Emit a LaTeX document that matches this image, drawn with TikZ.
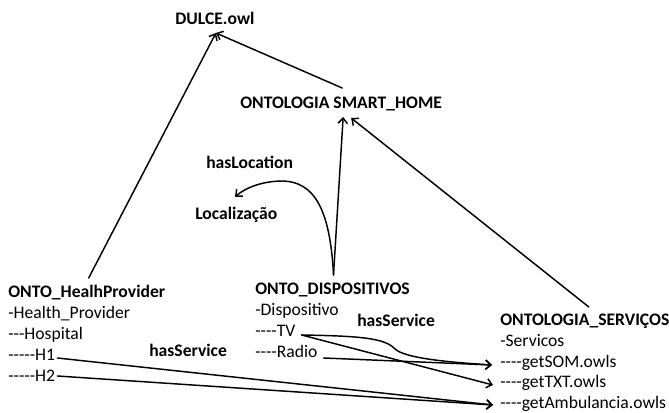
\documentclass[tikz,border=0pt]{standalone}
\usepackage{fontspec}
\setmainfont{Carlito}[Ligatures=TeXOff]
\usetikzlibrary{arrows.meta,calc}
\begin{document}
\begin{tikzpicture}[x=0.75pt,y=-0.75pt,
  lbl/.style={anchor=base west,inner sep=0pt,font=\fontsize{13.2}{15}\selectfont},
  hdr/.style={lbl,font=\fontsize{13.2}{15}\selectfont\bfseries},
  wire/.style={line width=1.1pt,line cap=round},
  conn/.style={wire,-{Straight Barb[length=4pt,width=7pt,line width=1.1pt]}}]
\useasboundingbox (0,0) rectangle (669,413);

% ontologies and their contents
\node[hdr] (dulce) at (175,25) {DULCE.owl};
\node[hdr] (smart) at (240,109) {ONTOLOGIA SMART\_HOME};
\node[hdr] (hasloc) at (206,169) {hasLocation};
\node[hdr] (loc) at (195,220) {Localização};

\node[hdr] (hp) at (8,298) {ONTO\_HealhProvider};
\node[lbl] (hpa) at (8,319) {-Health\_Provider};
\node[lbl] (hpb) at (8,340) {---Hospital};
\node[lbl] (h1) at (8,361) {-----H1};
\node[lbl] (h2) at (8,382) {-----H2};

\node[hdr] (disp) at (255,295) {ONTO\_DISPOSITIVOS};
\node[lbl] (dispa) at (255,316) {-Dispositivo};
\node[lbl] (tv) at (255,337) {----TV};
\node[lbl] (radio) at (255,358) {----Radio};

\node[hdr] (serv) at (500,326) {ONTOLOGIA\_SERVIÇOS};
\node[lbl] (serva) at (500,347) {-Servicos};
\node[lbl] (som) at (500,368) {----getSOM.owls};
\node[lbl] (txt) at (500,388) {----getTXT.owls};
\node[lbl] (amb) at (500,409) {----getAmbulancia.owls};

\node[hdr] (hs1) at (149,357) {hasService};
\node[hdr] (hs2) at (357,327) {hasService};

% import hierarchy
\draw[conn] ($(hp.base)+(2,-20)$) -- ($(dulce.base)+(1,8)$);
\draw[conn] ($(smart.base)+(1,-21)$) -- ($(dulce.base)+(1,8)$);
\draw[conn] ($(disp.base)+(1,-20)$) -- ($(smart.base)+(2,8)$);
\draw[conn] ($(serv.base)+(4,-19)$) -- ($(smart.base)+(10,9)$);

% hasLocation
\draw[conn] ($(disp.base)+(1,-20)$) .. controls (330,205) and (312,182) .. (283,181)
  .. controls (262,181) and (245,188) .. ($(loc.base west)+(40,-23)$);

% hasService links
\draw[conn] ($(h1.base east)+(2,-3)$) -- ($(amb.base west)+(-7,-4)$);
\draw[conn] ($(h2.base east)+(2,-6)$) -- ($(amb.base west)+(-7,-4)$);
\draw[conn] ($(tv.base east)+(6,-2)$) -- ($(txt.base west)+(-7,-3)$);
\draw[conn] ($(tv.base east)+(6,-2)$) .. controls (360,336) and (385,338) .. (395,349)
  .. controls (405,358) and (445,362) .. ($(som.base west)+(-8,-3)$);
\draw[conn] ($(radio.base east)+(6,0)$) -- ($(som.base west)+(-8,-3)$);
\end{tikzpicture}
\end{document}
